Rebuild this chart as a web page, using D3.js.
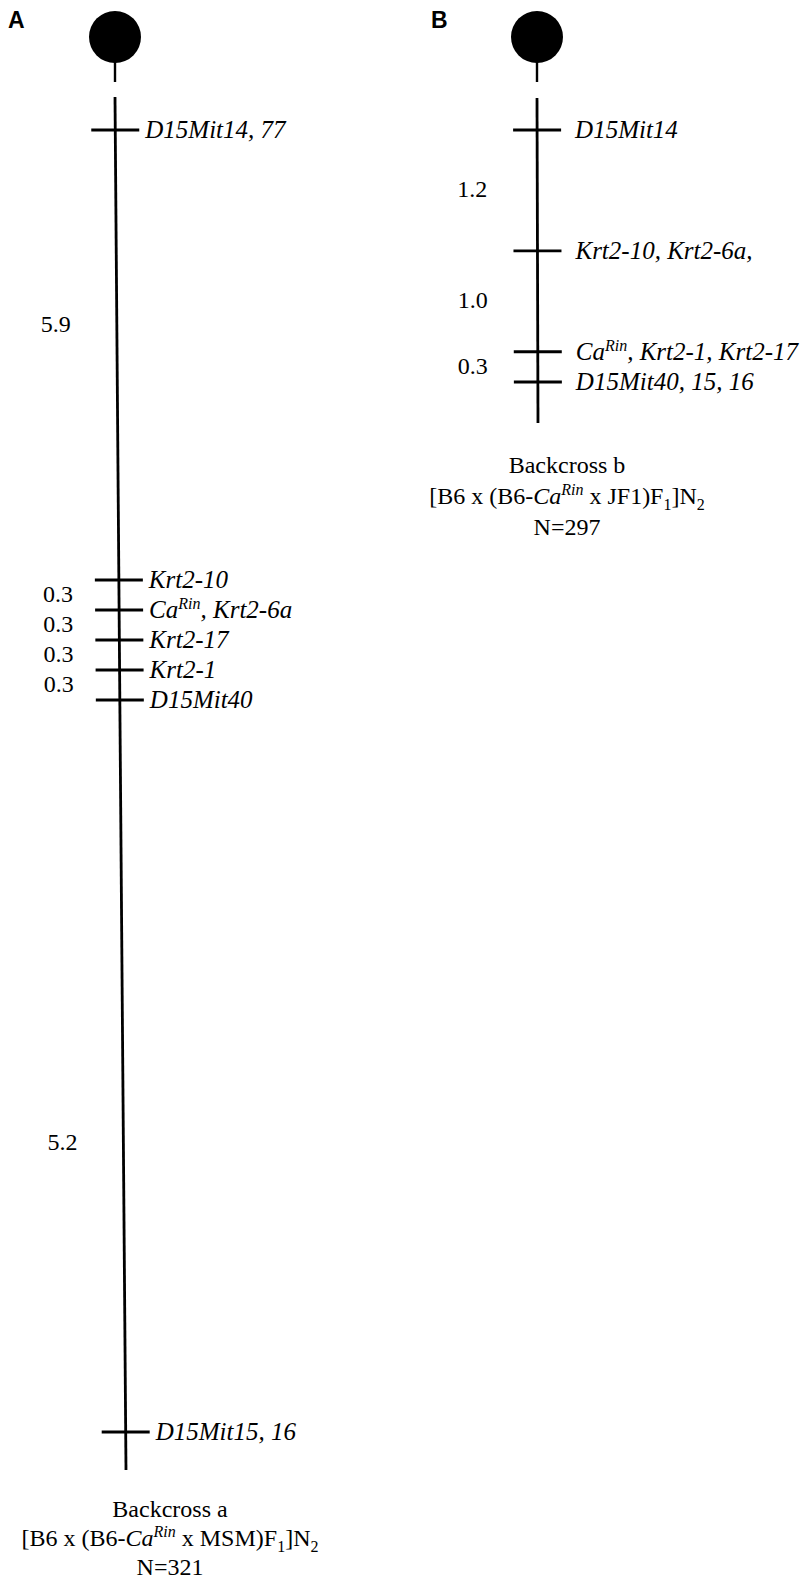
<!DOCTYPE html>
<html>
<head>
<meta charset="utf-8">
<script src="https://cdn.jsdelivr.net/npm/d3@7"></script>
<style>
  body { margin: 0; background: #fff; }
  svg { display: block; }
  svg text { font-family: "Liberation Serif", "Times New Roman", serif; }
  svg text.letra { font-family: "Liberation Sans", Arial, sans-serif; font-weight: bold; }
</style>
</head>
<body>
<div id="mapa"></div>
<script>
// Marcadores y distancias (cM) de cada retrocruzamiento
const markersA = ["D15Mit14, 77", "Krt2-10", "Ca{Rin}, Krt2-6a", "Krt2-17", "Krt2-1", "D15Mit40", "D15Mit15, 16"];
const intervalsA = [5.9, 0.3, 0.3, 0.3, 0.3, 5.2];
const markersB = ["D15Mit14", "Krt2-10, Krt2-6a,", "Ca{Rin}, Krt2-1, Krt2-17", "D15Mit40, 15, 16"];
const intervalsB = [1.2, 1.0, 0.3];
const captionA = ["Backcross a", "[B6 x (B6-Ca{Rin} x MSM)F_1]N_2", "N=321"];
const captionB = ["Backcross b", "[B6 x (B6-Ca{Rin} x JF1)F_1]N_2", "N=297"];

const width = 800, height = 1581;
const labelSize = 25;
const textSize = 24;

const svg = d3.select("#mapa")
    .append("svg")
    .attr("width", width)
    .attr("height", height)
    .style("background", "#fff");

// posiciones acumuladas en cM
const cum = iv => [0, ...d3.cumsum(iv)];

// escala del panel A: no es proporcional, tramos largos comprimidos
const yA = d3.scaleLinear()
    .domain([0, 2.95, 5.9, 7.1, 9.7, 12.3])
    .range([130, 325, 580, 700, 1143, 1432]);

const yB = d3.scaleLinear()
    .domain([0, 2.5])
    .range([130, 382]);

// escribe texto con superíndice {..} y subíndice _x
function richText(sel, str, italicCa) {
    const re = /(\{[^}]+\}|_\w|Ca(?=\{))/g;
    let last = 0, m;
    let shift = 0;
    const add = (t, opts = {}) => {
        const ts = sel.append("tspan").text(t);
        if (opts.italic) ts.attr("font-style", "italic");
        if (opts.size) ts.attr("font-size", opts.size);
        const target = opts.dy || 0;
        if (target !== shift) { ts.attr("dy", target - shift); shift = target; }
    };
    while ((m = re.exec(str)) !== null) {
        if (m.index > last) add(str.slice(last, m.index));
        const tok = m[0];
        if (tok === "Ca") add("Ca", { italic: italicCa });
        else if (tok[0] === "{") add(tok.slice(1, -1), { italic: true, size: 16, dy: -9 });
        else add(tok.slice(1), { size: 16, dy: 6 });
        last = m.index + tok.length;
    }
    if (last < str.length) add(str.slice(last));
}

function drawPanel(cfg) {
    const g = svg.append("g");
    const pos = cum(cfg.intervals);
    const lineX = y => cfg.x0 + (y - cfg.top) * (cfg.x1 - cfg.x0) / (cfg.bottom - cfg.top);

    // letra del panel
    g.append("text")
        .attr("class", "letra")
        .attr("x", cfg.letterX)
        .attr("y", 28)
        .attr("font-size", 23)
        .text(cfg.letter);

    // centrómero
    g.append("circle")
        .attr("cx", cfg.cx)
        .attr("cy", 37)
        .attr("r", 26)
        .attr("fill", "#000");

    g.append("line")
        .attr("x1", cfg.cx).attr("x2", cfg.cx)
        .attr("y1", 60).attr("y2", 82)
        .attr("stroke", "#000")
        .attr("stroke-width", 2.4);

    // cromosoma
    g.append("line")
        .attr("x1", cfg.x0).attr("y1", cfg.top)
        .attr("x2", cfg.x1).attr("y2", cfg.bottom)
        .attr("stroke", "#000")
        .attr("stroke-width", 2.8);

    const marks = g.selectAll("g.marker")
        .data(cfg.markers.map((m, i) => ({ name: m, y: cfg.y(pos[i]) })))
        .enter()
        .append("g")
        .attr("class", "marker");

    marks.append("line")
        .attr("x1", d => lineX(d.y) - 24)
        .attr("x2", d => lineX(d.y) + 24)
        .attr("y1", d => d.y)
        .attr("y2", d => d.y)
        .attr("stroke", "#000")
        .attr("stroke-width", 2.8);

    marks.append("text")
        .attr("x", d => lineX(d.y) + cfg.labelGap)
        .attr("y", d => d.y + 8)
        .attr("font-style", "italic")
        .attr("font-size", labelSize)
        .each(function (d) { richText(d3.select(this), d.name, true); });

    // distancias entre marcadores
    g.selectAll("text.dist")
        .data(cfg.intervals.map((v, i) => ({ v, y: cfg.y((pos[i] + pos[i + 1]) / 2) })))
        .enter()
        .append("text")
        .attr("class", "dist")
        .attr("x", d => lineX(d.y) - cfg.distGap)
        .attr("y", d => d.y + 7)
        .attr("text-anchor", "end")
        .attr("font-size", textSize)
        .text(d => d3.format(".1f")(d.v));

    // leyenda inferior
    cfg.caption.forEach((c, i) => {
        const t = g.append("text")
            .attr("x", cfg.capX)
            .attr("y", cfg.capY + i * cfg.capStep)
            .attr("text-anchor", "middle")
            .attr("font-size", textSize);
        richText(t, c, true);
    });
}

drawPanel({
    letter: "A", letterX: 8, cx: 115,
    markers: markersA, intervals: intervalsA, y: yA,
    x0: 115, x1: 126, top: 97, bottom: 1470,
    labelGap: 30, distGap: 46,
    caption: captionA, capX: 170, capY: 1517, capStep: 29
});

drawPanel({
    letter: "B", letterX: 431, cx: 537,
    markers: markersB, intervals: intervalsB, y: yB,
    x0: 537, x1: 538, top: 98, bottom: 423,
    labelGap: 38, distGap: 50,
    caption: captionB, capX: 567, capY: 473, capStep: 31
});
</script>
</body>
</html>
